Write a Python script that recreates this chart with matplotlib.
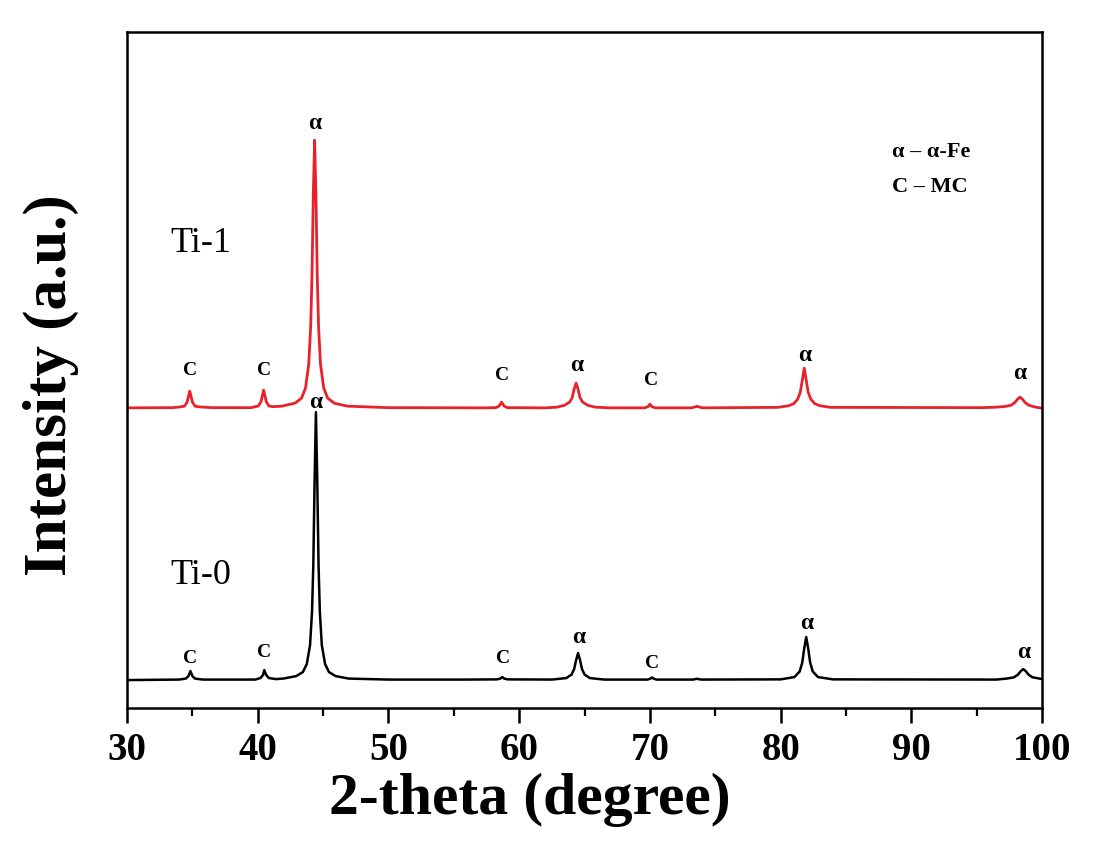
import matplotlib.pyplot as plt

# XRD patterns (2-theta in degree, intensity in a.u.)
ti0_theta = [30.0, 34.0, 34.5, 34.7, 34.85, 35.0, 35.2, 35.8,
             39.8, 40.2, 40.4, 40.5, 40.65, 40.85, 41.4,
             41.95, 42.95, 43.45, 43.75, 44.0, 44.15, 44.25, 44.35, 44.45,
             44.55, 44.65, 44.75, 44.9, 45.15, 45.45, 45.95, 46.95,
             50.0, 56.0, 58.3, 58.55, 58.7, 58.85, 59.1,
             62.5, 63.6, 64.0, 64.2, 64.35, 64.5, 64.65, 64.8, 65.0, 65.4, 66.5,
             69.8, 70.0, 70.15, 70.3, 70.5, 73.3, 73.6, 73.9,
             80.0, 81.05, 81.45, 81.65, 81.8, 81.95, 82.1, 82.25, 82.45, 82.85, 84.0,
             96.5, 97.35, 97.85, 98.15, 98.35, 98.55, 98.75, 98.95, 99.25, 99.75, 100.0]
ti0_int = [28.0, 28.5, 29.5, 32.0, 37.0, 32.0, 29.5, 28.5,
           28.5, 30.0, 33.0, 38.0, 33.0, 30.0, 29.0,
           29.5, 32.0, 36.0, 44.0, 63.0, 96.0, 143.0, 229.0, 296.0,
           229.0, 143.0, 96.0, 63.0, 44.0, 36.0, 32.0, 29.5,
           28.5, 28.5, 28.7, 29.5, 31.0, 29.5, 28.7,
           28.5, 30.0, 33.5, 39.0, 48.0, 55.0, 48.0, 39.0, 33.5, 30.0, 28.5,
           28.5, 29.3, 30.5, 29.3, 28.5, 28.5, 29.3, 28.5,
           28.7, 31.0, 36.6, 45.6, 59.8, 71.0, 59.8, 45.6, 36.6, 31.0, 28.7,
           28.5, 29.6, 30.8, 33.5, 36.8, 39.0, 36.8, 33.5, 30.8, 29.6, 29.0]

ti1_theta = [30.0, 33.5, 34.1, 34.4, 34.6, 34.7, 34.8, 34.9, 35.0, 35.2, 35.5, 36.5,
             39.5, 39.75, 40.05, 40.25, 40.35, 40.45, 40.55, 40.65, 40.85, 41.15,
             41.85, 42.85, 43.35, 43.65, 43.9, 44.05, 44.15, 44.25, 44.35,
             44.45, 44.55, 44.65, 44.8, 45.05, 45.35, 45.85, 46.85,
             50.0, 57.5, 58.2, 58.45, 58.55, 58.65, 58.75, 58.85, 59.1,
             62.0, 62.9, 63.45, 63.85, 64.05, 64.2, 64.35, 64.5, 64.65, 64.85, 65.25, 65.8, 67.0,
             69.6, 69.85, 70.0, 70.15, 70.4, 73.2, 73.6, 74.0,
             79.8, 80.6, 81.0, 81.3, 81.5, 81.65, 81.8, 81.95, 82.1, 82.3, 82.6, 83.0, 83.8,
             95.5, 96.5, 97.1, 97.6, 97.9, 98.1, 98.3, 98.5, 98.7, 99.0, 99.5, 100.0]
ti1_int = [28.3, 28.5, 29.3, 30.0, 34.1, 39.7, 45.0, 39.7, 34.1, 30.0, 29.3, 28.5,
           28.5, 29.3, 30.2, 34.5, 40.4, 46.0, 40.4, 34.5, 30.2, 29.5,
           30.0, 33.0, 38.0, 48.0, 72.0, 110.0, 162.0, 242.0, 296.0,
           242.0, 162.0, 110.0, 72.0, 48.0, 38.0, 33.0, 30.0,
           28.5, 28.3, 28.5, 30.0, 32.0, 34.0, 32.0, 30.0, 28.5,
           28.3, 29.0, 30.8, 34.0, 38.5, 47.0, 53.0, 47.0, 38.5, 34.0, 30.8, 29.0, 28.3,
           28.3, 29.5, 32.0, 29.5, 28.3, 28.3, 29.8, 28.3,
           28.8, 30.4, 32.5, 37.0, 44.0, 56.0, 68.0, 56.0, 44.0, 37.0, 32.5, 30.4, 28.8,
           28.5, 29.0, 29.6, 30.8, 33.5, 36.8, 39.0, 36.8, 33.5, 30.8, 29.0, 28.0]

ti1_offset = 272

# phase marks: (symbol, 2-theta, height on the plot)
ti1_marks = [('C', 34.8, 338), ('C', 40.5, 338), ('α', 44.35, 585), ('C', 58.7, 333),
             ('α', 64.4, 343), ('C', 70.1, 328), ('α', 81.85, 353), ('α', 98.3, 335)]
ti0_marks = [('C', 34.85, 50), ('C', 40.5, 56), ('α', 44.45, 306), ('C', 58.75, 50),
             ('α', 64.55, 71), ('C', 70.15, 45), ('α', 81.95, 85), ('α', 98.55, 56)]

plt.rcParams['font.family'] = ['Liberation Serif', 'DejaVu Serif']

fig = plt.figure(figsize=(11.18, 8.49), dpi=100)
ax = fig.add_axes([0.1136, 0.166, 0.8186, 0.796])

ax.plot(ti0_theta, ti0_int, color='black', lw=1.8)
ax.plot(ti1_theta, [v + ti1_offset for v in ti1_int], color='#e8222b', lw=2.0)

for marks in (ti1_marks, ti0_marks):
    for sym, x, y in marks:
        if sym == 'α':
            ax.text(x, y, sym, ha='center', va='center', fontsize=17, fontweight='bold')
        else:
            ax.text(x, y, sym, ha='center', va='center', fontsize=14, fontweight='semibold')

ax.text(33.3, 465, 'Ti-1', fontsize=26, va='center')
ax.text(33.3, 133, 'Ti-0', fontsize=26, va='center')
ax.text(88.5, 556, 'α – α-Fe', fontsize=16, fontweight='bold', va='center')
ax.text(88.5, 521, 'C – MC', fontsize=16, fontweight='bold', va='center')

ax.set_xlim(30, 100)
ax.set_ylim(0, 676)
ax.set_xticks(range(30, 101, 10))
ax.set_xticks(range(35, 100, 10), minor=True)
ax.set_yticks([])
ax.tick_params(axis='x', which='major', direction='out', length=11, width=1.8,
               labelsize=28, pad=6)
ax.tick_params(axis='x', which='minor', direction='out', length=6, width=1.6)
for lab in ax.get_xticklabels():
    lab.set_fontweight('bold')
for sp in ax.spines.values():
    sp.set_linewidth(1.8)

ax.set_xlabel('2-theta (degree)', fontsize=43, fontweight='bold')
ax.xaxis.set_label_coords(0.44, -0.095)
ax.set_ylabel('Intensity (a.u.)', fontsize=44, fontweight='bold')
ax.yaxis.set_label_coords(-0.052, 0.478)

fig.savefig('out.png', dpi=100)
